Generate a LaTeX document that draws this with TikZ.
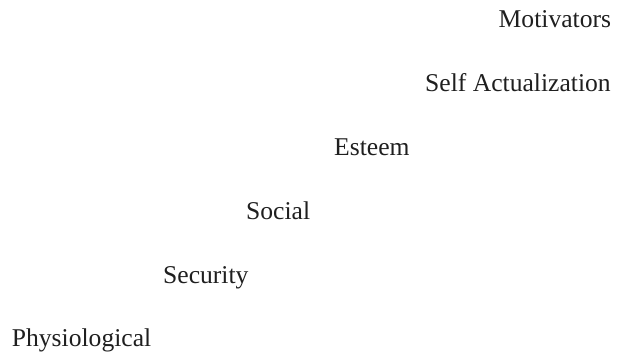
\documentclass[tikz,border=0pt]{standalone}
\usepackage{fontspec}
\setmainfont{Liberation Serif}
\begin{document}
\begin{tikzpicture}[x=1pt,y=1pt,
  lvl/.style={anchor=base west,inner sep=0pt,font=\fontsize{25.6}{30}\selectfont,text=black!88}]
\useasboundingbox (0,0) rectangle (617,354);
\node[lvl] (mot) at (498.5,354-27.3) {Motivators};
\node[lvl] (self) at (425,354-91.5) {Self Actualization};
\node[lvl] (est) at (334,354-155.7) {Esteem};
\node[lvl] (soc) at (246,354-219.5) {Social};
\node[lvl] (sec) at (163,354-283) {Security};
\node[lvl] (phy) at (11.7,354-346) {Physiological};
\end{tikzpicture}
\end{document}
